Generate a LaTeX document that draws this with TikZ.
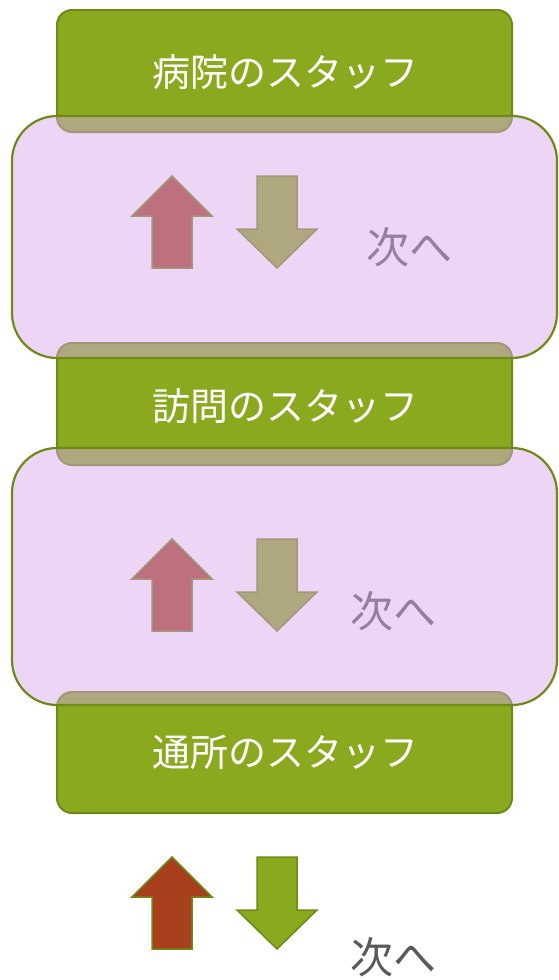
\documentclass[tikz,border=0pt]{standalone}
\usepackage{fontspec}
\setmainfont{Noto Sans CJK JP}
\definecolor{gfill}{RGB}{138,169,30}
\definecolor{gline}{RGB}{110,138,22}
\definecolor{pfill}{RGB}{217,167,234}
\definecolor{rfill}{RGB}{168,63,29}
\definecolor{tgray}{RGB}{89,89,89}
\tikzset{
  staffbox/.style={fill=gfill,draw=gline,line width=2pt,rounded corners=15pt},
  pinkbox/.style={fill=pfill,fill opacity=0.48,draw=gline,draw opacity=1,line width=2.2pt,rounded corners=45pt},
  upar/.style={fill=rfill,draw=gline,line width=1.5pt},
  downar/.style={fill=gfill,draw=gline,line width=1.5pt},
  stafftext/.style={text=white,font=\fontsize{38}{44}\selectfont,inner sep=0pt},
  nexttext/.style={text=tgray,font=\fontsize{43}{50}\selectfont,inner sep=0pt}
}
\newcommand{\arrowpair}[1]{%
  \draw[upar] (172,#1) -- (212,#1+40) -- (192,#1+40) -- (192,#1+92) -- (152,#1+92) -- (152,#1+40) -- (132,#1+40) -- cycle;
  \draw[downar] (257,#1) -- (297,#1) -- (297,#1+53) -- (317,#1+53) -- (277,#1+92) -- (237,#1+53) -- (257,#1+53) -- cycle;
}
\begin{document}
\begin{tikzpicture}[x=1pt,y=-1pt]
\useasboundingbox (0,0) rectangle (558,980);
% green staff boxes
\draw[staffbox] (57,10) rectangle (512,132);
\node[stafftext] (hosp) at (285,72) {病院のスタッフ};
\draw[staffbox] (57,343) rectangle (512,465);
\node[stafftext] (visit) at (285,406) {訪問のスタッフ};
\draw[staffbox] (57,692) rectangle (512,813);
\node[stafftext] (day) at (285,752) {通所のスタッフ};
% arrows and labels
\arrowpair{176}
\node[nexttext] (n1) at (409,247) {次へ};
\arrowpair{539}
\node[nexttext] (n2) at (393,611) {次へ};
\arrowpair{857}
\node[nexttext] (n3) at (393,957) {次へ};
% translucent overlays
\draw[pinkbox] (12,116) rectangle (557,358);
\draw[pinkbox] (12,448) rectangle (557,705);
\end{tikzpicture}
\end{document}
